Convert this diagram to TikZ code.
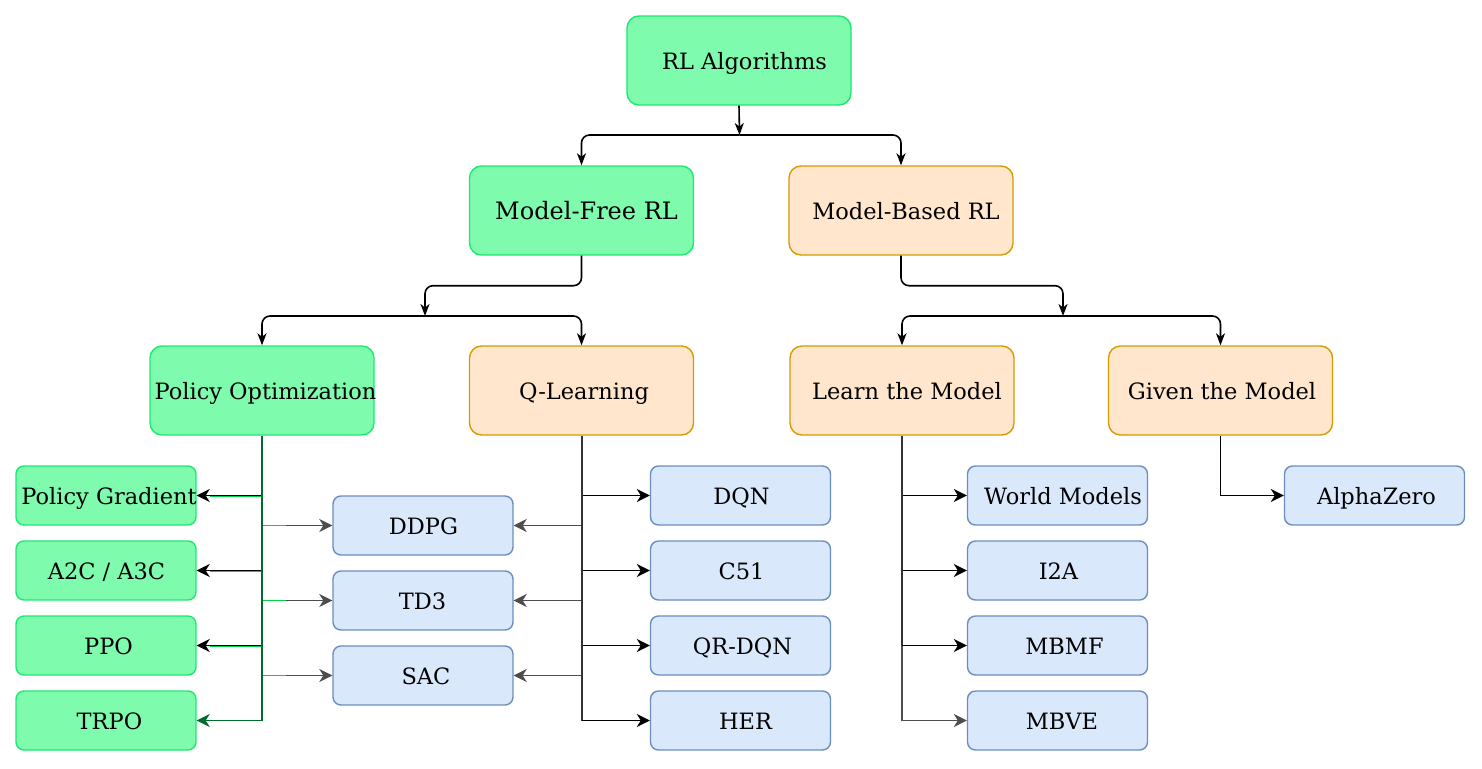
\documentclass[tikz,border=0pt]{standalone}
\usepackage{fontspec}
\setmainfont{DejaVu Serif}
\usetikzlibrary{arrows.meta}
\definecolor{gfill}{HTML}{7FFBAE}
\definecolor{gdraw}{HTML}{1EE870}
\definecolor{ofill}{HTML}{FFE6CC}
\definecolor{odraw}{HTML}{D79B00}
\definecolor{bfill}{HTML}{DAE8FC}
\definecolor{bdraw}{HTML}{6C8EBF}
\definecolor{dgreen}{HTML}{006B2E}
\definecolor{lgreen}{HTML}{00D24A}
\definecolor{dgray}{HTML}{4D4D4D}
\definecolor{tgray}{HTML}{333333}
\newcommand{\lbl}[2]{\makebox[0pt]{\hspace*{#1pt}#2}}
\tikzset{
  x=1pt, y=-1pt,
  boxtext/.style={inner sep=0pt, text height=20pt, text depth=1.5pt, font=\fontsize{22.5}{26}\selectfont},
  big/.style={boxtext, rounded corners=12pt, line width=1.4pt, minimum width=224pt, minimum height=89pt},
  small/.style={boxtext, rounded corners=8pt, line width=1.4pt, minimum width=180pt, minimum height=59pt},
  gbox/.style={fill=gfill, draw=gdraw},
  obox/.style={fill=ofill, draw=odraw},
  bbox/.style={fill=bfill, draw=bdraw},
  topconn/.style={line width=1.6pt, rounded corners=8pt, -{Stealth[length=12pt,width=9pt,inset=3.5pt]}},
  conn/.style={line width=1.6pt, -{Stealth[length=13pt,width=13pt,inset=4pt]}},
  trunk/.style={line width=2pt},
}
\begin{document}
\begin{tikzpicture}
\useasboundingbox[fill=white] (0,0) rectangle (1482,768);
% big boxes
\node[big,gbox] (rl) at (739,60.5) {\lbl{11}{RL Algorithms}};
\node[big,gbox,font=\fontsize{24}{28}\selectfont] (mf) at (581.5,210.5) {\lbl{10}{Model-Free RL}};
\node[big,obox] (mb) at (901,210.5) {\lbl{10}{Model-Based RL}};
\node[big,gbox] (po) at (262,390.5) {\lbl{7}{Policy Optimization}};
\node[big,obox] (ql) at (581.5,390.5) {\lbl{5}{Q-Learning}};
\node[big,obox] (lm) at (902,390.5) {\lbl{10}{Learn the Model}};
\node[big,obox] (gm) at (1220.5,390.5) {\lbl{3}{Given the Model}};
% small boxes
\node[small,gbox] (pg) at (106,495.5) {\lbl{6}{Policy Gradient}};
\node[small,gbox] (a2c) at (106,570.5) {\lbl{1}{A2C / A3C}};
\node[small,gbox] (ppo) at (106,645.5) {\lbl{5}{PPO}};
\node[small,gbox] (trpo) at (106,720.5) {\lbl{7}{TRPO}};
\node[small,bbox] (ddpg) at (423,525.5) {\lbl{1}{DDPG}};
\node[small,bbox] (td3) at (423,600.5) {\lbl{-1}{TD3}};
\node[small,bbox] (sac) at (423,675.5) {\lbl{6}{SAC}};
\node[small,bbox] (dqn) at (740.5,495.5) {\lbl{2}{DQN}};
\node[small,bbox] (c51) at (740.5,570.5) {\lbl{2}{C51}};
\node[small,bbox] (qrdqn) at (740.5,645.5) {\lbl{4}{QR-DQN}};
\node[small,bbox] (her) at (740.5,720.5) {\lbl{10}{HER}};
\node[small,bbox] (wm) at (1057.5,495.5) {\lbl{11}{World Models}};
\node[small,bbox] (i2a) at (1057.5,570.5) {\lbl{2}{I2A}};
\node[small,bbox] (mbmf) at (1057.5,645.5) {\lbl{14}{MBMF}};
\node[small,bbox] (mbve) at (1057.5,720.5) {\lbl{9}{MBVE}};
\node[small,bbox] (az) at (1374.5,495.5) {\lbl{4}{AlphaZero}};
% junctions
\coordinate (j0) at (739.5,135);
\coordinate (j1) at (425,316);
\coordinate (j2) at (1063,316);
% level 1
\draw[topconn] (rl.south) -- (j0);
\draw[topconn] (j0) -| (mf.north);
\draw[topconn] (j0) -| (mb.north);
% level 2
\draw[topconn] (mf.south) -- ++(0,30) -| (j1);
\draw[topconn] (j1) -| (po.north);
\draw[topconn] (j1) -| (ql.north);
\draw[topconn] (mb.south) -- ++(0,30) -| (j2);
\draw[topconn] (j2) -| (lm.north);
\draw[topconn] (j2) -| (gm.north);
% policy optimization
\draw[conn] (po.south |- pg.east) -- (pg.east);
\draw[conn] (po.south |- a2c.east) -- (a2c.east);
\draw[conn] (po.south |- ppo.east) -- (ppo.east);
\draw[conn,dgray] (po.south |- ddpg.west) -- (ddpg.west);
\draw[conn,dgray] (po.south |- td3.west) -- (td3.west);
\draw[conn,dgray] (po.south |- sac.west) -- (sac.west);
\foreach \n in {pg,a2c,ppo}{\draw[line width=0.8pt,lgreen] (po.south |- \n.east) ++(0,0.4) -- ++(-52,0);}
\foreach \n in {ddpg,td3,sac}{\draw[line width=1.6pt,lgreen] (po.south |- \n.west) -- ++(24,0);}
\draw[trunk,dgreen] (po.south) -- (po.south |- trpo.east);
\draw[conn,dgreen] (po.south |- trpo.east) -- (trpo.east);
% q-learning
\draw[conn] (ql.south |- dqn.west) -- (dqn.west);
\draw[conn] (ql.south |- c51.west) -- (c51.west);
\draw[conn] (ql.south |- qrdqn.west) -- (qrdqn.west);
\draw[conn,dgray] (ql.south |- ddpg.east) -- (ddpg.east);
\draw[conn,dgray] (ql.south |- td3.east) -- (td3.east);
\draw[conn,dgray] (ql.south |- sac.east) -- (sac.east);
\draw[trunk,tgray] (ql.south) -- (ql.south |- her.west);
\draw[conn] (ql.south |- her.west) -- (her.west);
% learn the model
\draw[conn] (lm.south |- wm.west) -- (wm.west);
\draw[conn] (lm.south |- i2a.west) -- (i2a.west);
\draw[trunk,tgray] (lm.south) -- (lm.south |- mbmf.west);
\draw[conn] (lm.south |- mbmf.west) -- (mbmf.west);
\draw[conn,dgray] (lm.south |- mbmf.west) |- (mbve.west);
% given the model
\draw[conn] (gm.south) |- (az.west);
\end{tikzpicture}
\end{document}
